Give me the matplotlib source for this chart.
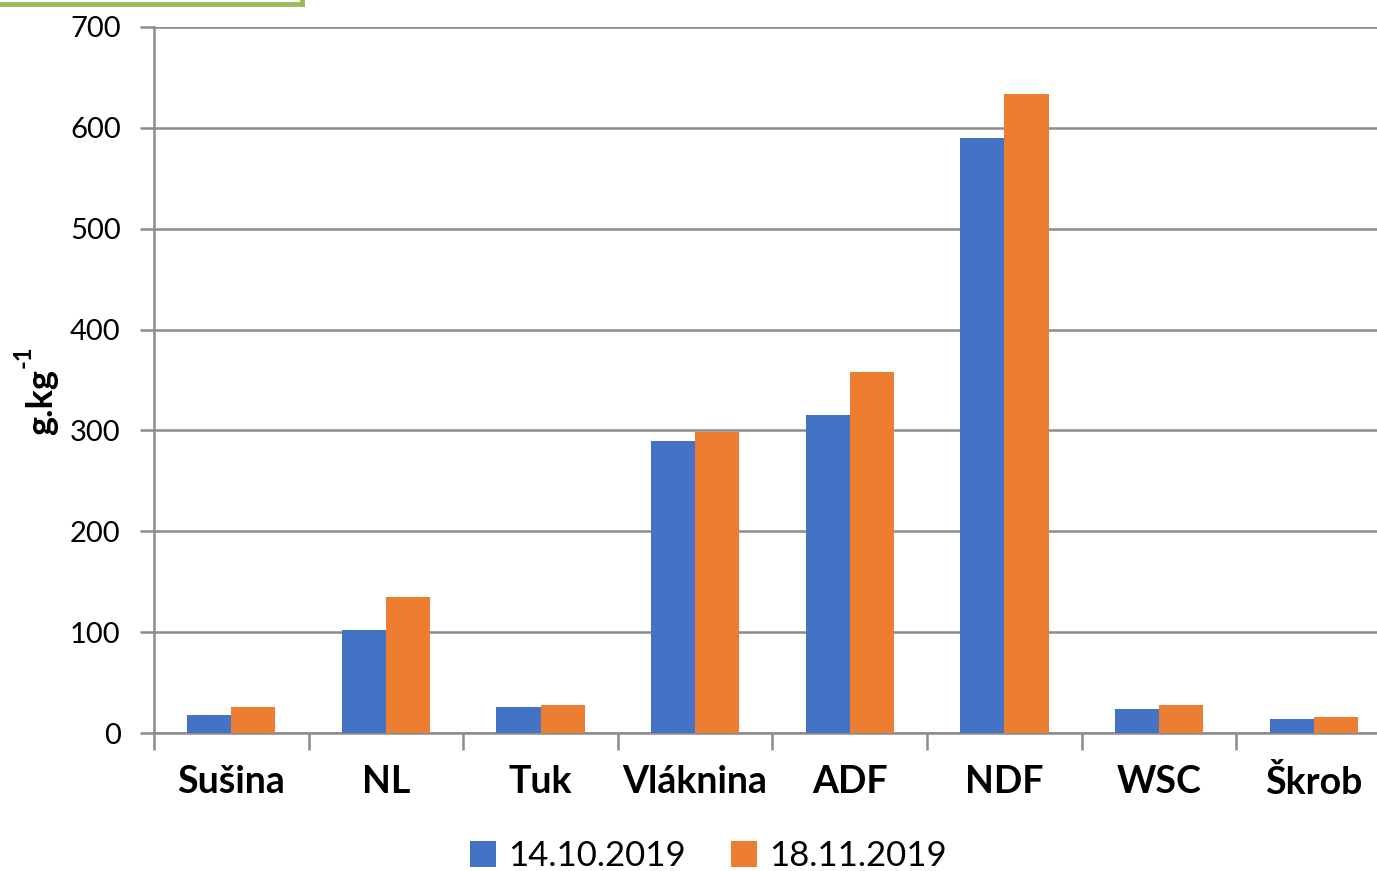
import matplotlib
matplotlib.use("Agg")
import matplotlib.pyplot as plt
from matplotlib.lines import Line2D
import numpy as np

categories = ["Sušina", "NL", "Tuk", "Vláknina", "ADF", "NDF", "WSC", "Škrob"]
series_names = ["14.10.2019", "18.11.2019"]
values_oct = [18, 102, 26, 290, 315, 590, 24, 14]
values_nov = [26, 135, 28, 298, 358, 634, 28, 16]
yticks = [0, 100, 200, 300, 400, 500, 600, 700]

BLUE = "#4472C4"
ORANGE = "#ED7D31"
GRID = "#8C8C8C"

plt.rcParams["font.family"] = ["Lato", "DejaVu Sans"]

W, H = 1377, 871
fig = plt.figure(figsize=(W / 100, H / 100), dpi=100)

# plot area in pixels: left 154, right 1391, top 27, bottom 733
left, right, top, bottom = 154, 1391, 27, 733
ax = fig.add_axes([left / W, 1 - bottom / H, (right - left) / W, (bottom - top) / H])

x = np.arange(len(categories))
bw = 0.285
ax.bar(x - bw / 2, values_oct, width=bw, color=BLUE, label=series_names[0], zorder=3)
ax.bar(x + bw / 2, values_nov, width=bw, color=ORANGE, label=series_names[1], zorder=3)

ax.set_xlim(-0.5, len(categories) - 0.5)
ax.set_ylim(0, 700)
ax.set_yticks(yticks)
ax.set_yticklabels([str(v) for v in yticks], fontsize=21)
ax.yaxis.grid(True, color=GRID, linewidth=1.8, zorder=0)

ax.set_xticks(np.arange(len(categories) + 1) - 0.5)
ax.set_xticklabels([])
ax.set_xticks(x, minor=True)
ax.set_xticklabels(categories, minor=True, fontsize=27, fontweight="bold")
ax.tick_params(axis="x", which="minor", length=0, pad=23)
ax.tick_params(axis="x", which="major", length=12, width=1.8, color=GRID)
ax.tick_params(axis="y", length=10, width=1.8, color=GRID, pad=14)

for s in ["top", "right"]:
    ax.spines[s].set_visible(False)
for s in ["left", "bottom"]:
    ax.spines[s].set_color(GRID)
    ax.spines[s].set_linewidth(1.8)

# axis unit: "g.kg" with a raised "-1"
fig.text(42 / W, 1 - 435 / H, "g.kg", rotation=90, fontsize=26, fontweight="bold",
         ha="center", va="bottom")
fig.text(23 / W, 1 - 368 / H, "-1", rotation=90, fontsize=17, fontweight="bold",
         ha="center", va="bottom")

handles, labels = ax.get_legend_handles_labels()
fig.legend(handles, labels, loc="center", bbox_to_anchor=(708 / W, 1 - 856 / H),
           ncol=2, frameon=False, fontsize=25, handlelength=0.75, handleheight=0.75,
           handletextpad=0.35, columnspacing=1.3)

# green frame edge at the top-left corner
fig.add_artist(Line2D([0, 302 / W], [1 - 4 / H, 1 - 4 / H], color="#9BBB59",
                      linewidth=3.5, transform=fig.transFigure))
fig.add_artist(Line2D([302 / W, 302 / W], [1 - 4 / H, 1.0], color="#9BBB59",
                      linewidth=3.5, transform=fig.transFigure))

fig.savefig("out.png", dpi=100)
